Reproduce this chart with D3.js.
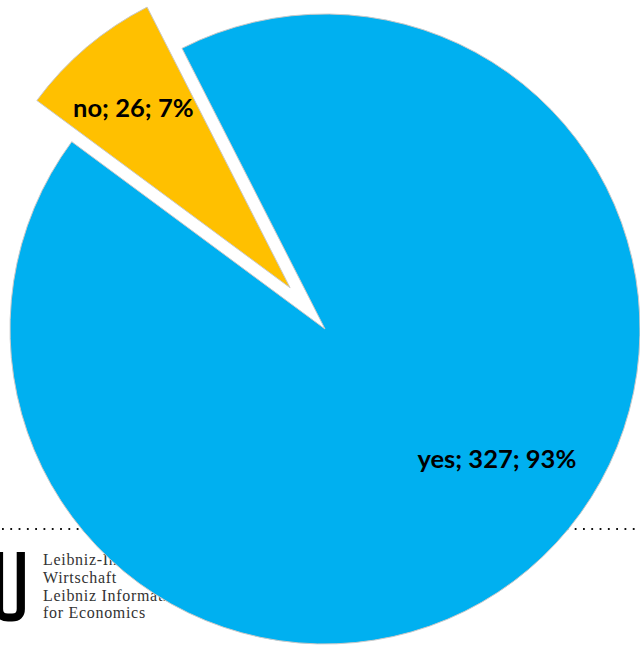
<!DOCTYPE html>
<html>
<head>
<meta charset="utf-8">
<script src="https://cdn.jsdelivr.net/npm/d3@7"></script>
<style>
  html, body { margin: 0; padding: 0; background: #fff; }
  svg { display: block; }
</style>
</head>
<body>
<svg id="chart" width="640" height="646"></svg>
<script>
// ---- data ----
const categories = ["yes", "no"];
const values = [327, 26];
const colors = ["#00B0F0", "#FFC000"];
const logoLines = ["Leibniz-Informationszentrum", "Wirtschaft", "Leibniz Information Centre", "for Economics"];

// ---- layout ----
const W = 640, H = 646;
const cx = 325, cy = 329, R = 315;
const startDeg = -27;
const explode = [0, 54];             // px offset along mid-angle
const labelAngleShift = [-12.75, -0.85]; // deg
const labelRadius = [0.683, 0.757];
const labelFont = 25.5;

const svg = d3.select("#chart");

// background: dotted rule + logo
const bg = svg.append("g");
bg.append("line")
  .attr("x1", 2).attr("x2", W).attr("y1", 529).attr("y2", 529)
  .attr("stroke", "#111").attr("stroke-width", 1.8)
  .attr("stroke-dasharray", "1.8 6.5");
bg.append("path")
  .attr("d", "M -1 552 L -1 609 Q -1 617.5 8 617.5 L 12 617.5 Q 20.8 617.5 20.8 609 L 20.8 552")
  .attr("fill", "none").attr("stroke", "#000").attr("stroke-width", 8.2);
bg.selectAll("text.logo").data(logoLines).join("text")
  .attr("class", "logo")
  .attr("x", 43).attr("y", (d, i) => 565 + i * 17.8)
  .attr("font-family", "Liberation Serif, DejaVu Serif, serif")
  .attr("font-size", 16).attr("letter-spacing", 0.7).attr("fill", "#333")
  .text(d => d);

// pie
const total = d3.sum(values);
const pie = d3.pie().sort(null).value(d => d.value)
  .startAngle(startDeg * Math.PI / 180)
  .endAngle((startDeg + 360) * Math.PI / 180);
const data = categories.map((c, i) => ({ cat: c, value: values[i], color: colors[i], i }));
const arcs = pie(data);
const arc = d3.arc().innerRadius(0).outerRadius(R);

const g = svg.append("g").attr("transform", `translate(${cx},${cy})`);
const slice = g.selectAll("g.slice").data(arcs).join("g")
  .attr("class", "slice")
  .attr("transform", d => {
    const m = (d.startAngle + d.endAngle) / 2;
    const o = explode[d.data.i];
    return `translate(${o * Math.sin(m)},${-o * Math.cos(m)})`;
  });
slice.append("path")
  .attr("d", arc)
  .attr("fill", d => d.data.color)
  .attr("stroke", "#c9c9c9").attr("stroke-width", 1);
const labelAngle = d => (d.startAngle + d.endAngle) / 2 + labelAngleShift[d.data.i] * Math.PI / 180;
slice.append("text")
  .attr("x", d => R * labelRadius[d.data.i] * Math.sin(labelAngle(d)))
  .attr("y", d => -R * labelRadius[d.data.i] * Math.cos(labelAngle(d)))
  .attr("dy", labelFont * 0.36)
  .attr("text-anchor", "middle")
  .attr("font-family", "Lato, 'Open Sans', sans-serif")
  .attr("font-weight", "bold").attr("font-size", labelFont).attr("fill", "#000")
  .text(d => `${d.data.cat}; ${d.data.value}; ${Math.round(d.data.value / total * 100)}%`);
</script>
</body>
</html>
